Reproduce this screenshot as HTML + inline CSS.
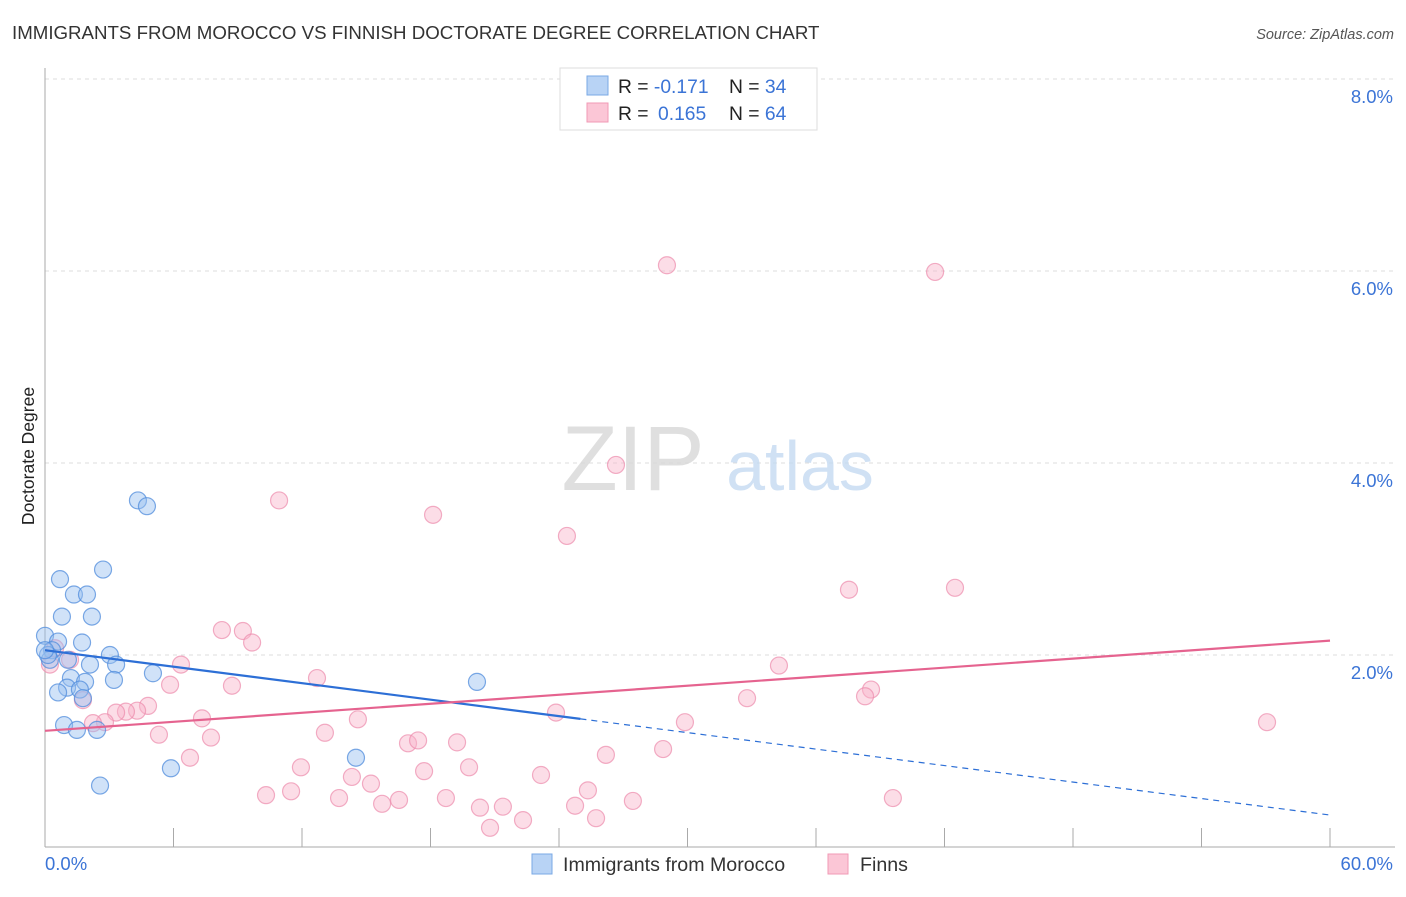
<!DOCTYPE html>
<html><head><meta charset="utf-8"><style>
body{margin:0;background:#fff;font-family:"Liberation Sans",sans-serif;}
svg text{font-family:"Liberation Sans",sans-serif;}
</style></head><body>
<svg id="chart" width="1406" height="892" xmlns="http://www.w3.org/2000/svg">
<text x="12" y="39" font-size="18.7" fill="#333">IMMIGRANTS FROM MOROCCO VS FINNISH DOCTORATE DEGREE CORRELATION CHART</text>
<text x="1394" y="39" font-size="14.5" fill="#555" font-style="italic" text-anchor="end">Source: ZipAtlas.com</text>
<text x="34" y="456" font-size="17.5" fill="#222" text-anchor="middle" transform="rotate(-90 34 456)">Doctorate Degree</text>
<g id="grid"></g>
<g><text x="633" y="490" font-size="92" fill="#d8d8d8" font-family="Liberation Serif" text-anchor="middle" opacity="0.8">ZIP</text><text x="800" y="490" font-size="70" fill="#c5daf2" text-anchor="middle" opacity="0.8">atlas</text></g>
<g id="pts"></g>
<g id="lines"></g>
<g>
<rect x="560" y="68" width="257" height="62" fill="#fff" stroke="#ddd"/>
<rect x="587" y="76" width="21" height="19" fill="#b8d3f5" stroke="#7aa8e5"/>
<rect x="587" y="103" width="21" height="19" fill="#fbc6d6" stroke="#f09ab5"/>
<text x="618" y="93" font-size="19.3" fill="#222">R = <tspan fill="#3b74d6">-0.171</tspan><tspan x="729">N = </tspan><tspan fill="#3b74d6">34</tspan></text>
<text x="618" y="120" font-size="19.3" fill="#222">R = <tspan fill="#3b74d6" x="658">0.165</tspan><tspan x="729">N = </tspan><tspan fill="#3b74d6">64</tspan></text>
</g>
<g>
<rect x="532" y="854" width="20" height="20" fill="#b8d3f5" stroke="#7aa8e5"/>
<text x="563" y="871" font-size="19.6" fill="#333">Immigrants from Morocco</text>
<rect x="828" y="854" width="20" height="20" fill="#fbc6d6" stroke="#f09ab5"/>
<text x="860" y="871" font-size="19.6" fill="#333">Finns</text>
</g>
</svg>
<script>
const yTicks=[2,4,6,8];
const yTickLabels=["2.0%","4.0%","6.0%","8.0%"];
const xTickLabels=["0.0%","60.0%"];
const blueX=[4.34,4.76,2.71,0.70,1.35,1.96,0.79,2.19,0.0,0.61,1.73,0.33,3.03,0.23,1.07,2.10,3.32,5.04,1.21,1.87,3.22,1.03,1.63,0.61,1.77,0.89,1.49,2.43,5.88,14.52,20.17,2.57,0.14,0.0];
const blueY=[3.61,3.55,2.89,2.79,2.63,2.63,2.40,2.40,2.20,2.14,2.13,2.05,2.00,1.95,1.95,1.90,1.90,1.81,1.76,1.72,1.74,1.66,1.64,1.61,1.55,1.27,1.22,1.22,0.82,0.93,1.72,0.64,2.00,2.05];
const pinkX=[29.04,41.56,26.66,10.93,18.12,24.37,37.54,42.49,8.26,9.24,9.67,6.35,5.84,8.73,12.70,34.27,32.78,38.57,38.29,23.86,29.88,57.06,7.33,4.81,4.30,3.78,3.32,2.80,2.24,1.77,5.32,7.75,13.07,14.61,16.95,17.42,19.24,28.86,26.19,6.77,11.95,19.80,17.70,14.33,15.22,23.16,25.35,10.32,11.49,13.73,15.74,16.53,18.72,20.31,21.38,24.75,27.45,39.59,22.32,25.73,20.78,1.17,0.23,0.47];
const pinkY=[6.06,5.99,3.98,3.61,3.46,3.24,2.68,2.70,2.26,2.25,2.13,1.90,1.69,1.68,1.76,1.89,1.55,1.64,1.57,1.40,1.30,1.30,1.34,1.47,1.42,1.41,1.40,1.30,1.29,1.53,1.17,1.14,1.19,1.33,1.08,1.11,1.09,1.02,0.96,0.93,0.83,0.83,0.79,0.73,0.66,0.75,0.59,0.54,0.58,0.51,0.45,0.49,0.51,0.41,0.42,0.43,0.48,0.51,0.28,0.30,0.20,1.95,1.90,2.07];
const blueTrend=[2.05,0.333];
const pinkTrend=[1.21,2.15];
const sx=v=>45+v*(1285/60);
const sy=v=>847-v*96;
const NS="http://www.w3.org/2000/svg";
function mk(t,a,p){const e=document.createElementNS(NS,t);for(const k in a)e.setAttribute(k,a[k]);p.appendChild(e);return e;}
const g=document.getElementById('grid');
yTicks.forEach((t,i)=>{
 const l=mk('line',{x1:45,x2:1395,y1:sy(t),y2:sy(t),stroke:'#ddd','stroke-dasharray':'4,4'},g);
 
 
 const tx=mk('text',{x:1393,y:sy(t)+24,'font-size':18.5,fill:'#3b74d6','text-anchor':'end'},g);
 tx.textContent=yTickLabels[i];
 
 
});
mk('line',{x1:45,x2:45,y1:68,y2:847,stroke:'#aaa'},g);
mk('line',{x1:45,x2:1395,y1:847,y2:847,stroke:'#aaa'},g);
for(let i=0;i<=10;i++){const t=mk('line',{x1:sx(i*6),x2:sx(i*6),y1:828,y2:847,stroke:'#aaa'},g);
 
 }
const xl0=mk('text',{x:45,y:870,'font-size':18.5,fill:'#3b74d6'},g);xl0.textContent=xTickLabels[0];


const xl1=mk('text',{x:1393,y:870,'font-size':18.5,fill:'#3b74d6','text-anchor':'end'},g);xl1.textContent=xTickLabels[1];


const pg=document.getElementById('pts');
pinkX.forEach((x,i)=>{const c=mk('circle',{cx:sx(x),cy:sy(pinkY[i]),r:8.5,fill:'rgba(248,180,202,0.45)',stroke:'rgba(236,140,172,0.7)','stroke-width':1.2},pg);
 
 });
blueX.forEach((x,i)=>{const c=mk('circle',{cx:sx(x),cy:sy(blueY[i]),r:8.5,fill:'rgba(150,190,240,0.45)',stroke:'rgba(80,140,220,0.75)','stroke-width':1.2},pg);
 
 });
const lg=document.getElementById('lines');
const bAt=x=>blueTrend[0]+(blueTrend[1]-blueTrend[0])*x/60;
const l1=mk('line',{x1:sx(0),y1:sy(bAt(0)),x2:sx(25),y2:sy(bAt(25)),stroke:'#2d6fd6','stroke-width':2.2},lg);


const l2=mk('line',{x1:sx(25),y1:sy(bAt(25)),x2:sx(60),y2:sy(bAt(60)),stroke:'#2d6fd6','stroke-width':1.2,'stroke-dasharray':'6,5'},lg);


const l3=mk('line',{x1:sx(0),y1:sy(pinkTrend[0]),x2:sx(60),y2:sy(pinkTrend[1]),stroke:'#e5638f','stroke-width':2.2},lg);


</script>
</body></html>
